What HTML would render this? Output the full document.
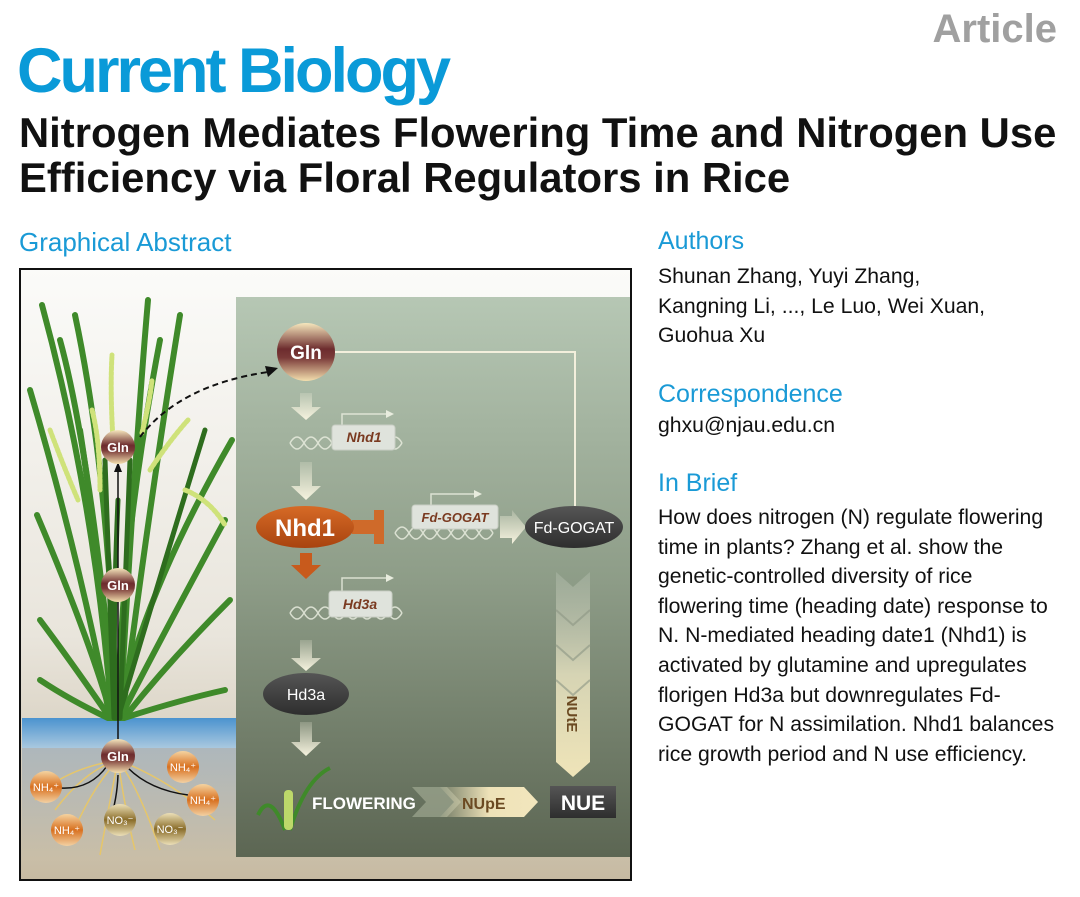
<!DOCTYPE html>
<html><head><meta charset="utf-8"><style>
body{margin:0;width:1080px;height:897px;background:#fff;position:relative;overflow:hidden;font-family:"Liberation Sans",sans-serif}
.a{position:absolute;white-space:nowrap}
.h{color:#1a9ad6;font-size:25px}
.t{font-size:21.2px;color:#111;line-height:29.6px}
</style></head><body>
<div class="a" style="right:23px;top:7px;font-size:40px;font-weight:bold;color:#a0a0a0">Article</div>
<div class="a" style="left:17px;top:35px;font-size:63px;font-weight:bold;color:#0a9ad8;letter-spacing:-3px">Current Biology</div>
<div class="a" style="left:19px;top:110px;font-size:41.8px;font-weight:bold;color:#111;line-height:45px">Nitrogen Mediates Flowering Time and Nitrogen Use<br>Efficiency via Floral Regulators in Rice</div>
<div class="a h" style="left:19px;top:227px;font-size:26px">Graphical Abstract</div>
<div class="a h" style="left:658px;top:227px">Authors</div>
<div class="a t" style="left:658px;top:262px">Shunan Zhang, Yuyi Zhang,<br>Kangning Li, ..., Le Luo, Wei Xuan,<br>Guohua Xu</div>
<div class="a h" style="left:658px;top:380px">Correspondence</div>
<div class="a t" style="left:658px;top:411px">ghxu@njau.edu.cn</div>
<div class="a h" style="left:658px;top:469px">In Brief</div>
<div class="a t" style="left:658px;top:503px">How does nitrogen (N) regulate flowering<br>time in plants? Zhang et al. show the<br>genetic-controlled diversity of rice<br>flowering time (heading date) response to<br>N. N-mediated heading date1 (Nhd1) is<br>activated by glutamine and upregulates<br>florigen Hd3a but downregulates Fd-<br>GOGAT for N assimilation. Nhd1 balances<br>rice growth period and N use efficiency.</div>
<svg class="a" style="left:0;top:0" width="1080" height="897" viewBox="0 0 1080 897" font-family="Liberation Sans, sans-serif">
<defs>
<linearGradient id="bg" x1="0" y1="0" x2="0" y2="1"><stop offset="0" stop-color="#fbfbf9"/><stop offset=".6" stop-color="#e9e5dc"/><stop offset="1" stop-color="#c6baa2"/></linearGradient>
<linearGradient id="pn" x1="0" y1="0" x2="0" y2="1"><stop offset="0" stop-color="#b6c7b4"/><stop offset=".5" stop-color="#8e9d88"/><stop offset="1" stop-color="#5c6653"/></linearGradient>
<linearGradient id="wa" x1="0" y1="0" x2="0" y2="1"><stop offset="0" stop-color="#4b93cf"/><stop offset="1" stop-color="#a9c8df"/></linearGradient>
<linearGradient id="so" x1="0" y1="0" x2="0" y2="1"><stop offset="0" stop-color="#a9b4bb"/><stop offset="1" stop-color="#c9bea7"/></linearGradient>
<linearGradient id="gl" x1="0" y1="0" x2="0" y2="1"><stop offset="0" stop-color="#f6e7bd"/><stop offset=".45" stop-color="#6d2c2e"/><stop offset=".6" stop-color="#7a3a38"/><stop offset="1" stop-color="#f3dfae"/></linearGradient>
<linearGradient id="nh" x1="0" y1="0" x2="0" y2="1"><stop offset="0" stop-color="#f5d3a0"/><stop offset=".5" stop-color="#d8701f"/><stop offset="1" stop-color="#f3d1a3"/></linearGradient>
<linearGradient id="no" x1="0" y1="0" x2="0" y2="1"><stop offset="0" stop-color="#ece0b8"/><stop offset=".5" stop-color="#8a6d2a"/><stop offset="1" stop-color="#ece0b8"/></linearGradient>
<linearGradient id="or" x1="0" y1="0" x2="0" y2="1"><stop offset="0" stop-color="#d66a26"/><stop offset="1" stop-color="#a8430f"/></linearGradient>
<linearGradient id="dk" x1="0" y1="0" x2="0" y2="1"><stop offset="0" stop-color="#555"/><stop offset="1" stop-color="#2e2e2e"/></linearGradient>
<linearGradient id="wh" x1="0" y1="0" x2="0" y2="1"><stop offset="0" stop-color="#f6f3df" stop-opacity=".2"/><stop offset="1" stop-color="#f6f3df"/></linearGradient>
<linearGradient id="ch" x1="0" y1="0" x2="0" y2="1"><stop offset="0" stop-color="#c0c9bb" stop-opacity=".3"/><stop offset=".5" stop-color="#d6d4b4"/><stop offset="1" stop-color="#efe4b8"/></linearGradient>
<linearGradient id="hz" x1="0" y1="0" x2="1" y2="0"><stop offset="0" stop-color="#eee2b8" stop-opacity=".1"/><stop offset=".5" stop-color="#eee2b8"/><stop offset="1" stop-color="#f2e6bd"/></linearGradient>
</defs>
<rect x="20" y="269" width="611" height="611" fill="url(#bg)" stroke="#111" stroke-width="2"/>
<rect x="236" y="297" width="394" height="560" fill="url(#pn)"/>
<rect x="22" y="718" width="214" height="30" fill="url(#wa)"/>
<rect x="22" y="748" width="214" height="110" fill="url(#so)" opacity=".9"/>
<g fill="none" stroke-linecap="round">
<g stroke="#3f8a2a" stroke-width="6">
<path d="M112 718 Q95 500 42 305"/><path d="M116 718 Q110 480 75 315"/><path d="M120 718 Q135 450 148 300"/><path d="M122 718 Q150 500 180 315"/>
<path d="M110 718 Q80 560 30 390"/><path d="M118 718 Q140 600 232 440"/><path d="M120 718 Q160 640 225 520"/><path d="M112 718 Q90 640 37 515"/>
<path d="M124 718 Q170 660 230 600"/><path d="M110 718 Q70 660 40 620"/><path d="M118 718 Q120 550 160 340"/><path d="M116 718 Q90 450 60 340"/>
<path d="M124 718 Q180 700 225 690"/><path d="M108 718 Q70 700 40 680"/><path d="M114 718 Q100 560 80 430"/>
</g>
<g stroke="#2e6d1e" stroke-width="5"><path d="M114 718 Q110 600 105 460"/><path d="M120 718 Q125 600 130 460"/><path d="M118 718 Q165 560 205 430"/><path d="M116 718 Q112 640 118 500"/></g>
<g stroke="#cfe27a" stroke-width="5" stroke-dasharray="3 2"><path d="M113 440 Q110 390 112 355"/><path d="M142 433 Q150 400 152 380"/><path d="M92 410 Q100 440 100 490"/><path d="M50 430 Q65 470 78 500"/><path d="M150 470 Q170 440 188 420"/><path d="M185 490 Q210 500 225 525"/></g>
</g>
<line x1="118" y1="740" x2="118" y2="470" stroke="#111" stroke-width="1.5"/>
<path d="M114 472 L118 462 L122 472Z" fill="#111"/>
<path d="M140 437 Q180 385 268 372" fill="none" stroke="#111" stroke-width="2" stroke-dasharray="6 4"/>
<path d="M265 366 L278 368 L268 377Z" fill="#111"/>
<g fill="none" stroke="#e6c66a" stroke-width="1.5"><path d="M118 760 Q90 790 70 840"/><path d="M118 760 Q140 790 160 850"/><path d="M118 760 Q110 800 100 855"/><path d="M118 760 Q170 780 215 820"/><path d="M118 760 Q60 770 35 800"/><path d="M118 760 Q125 810 135 850"/><path d="M118 760 Q85 770 55 810"/></g>
<g fill="none" stroke="#111" stroke-width="1.5"><path d="M60 788 Q90 790 107 766"/><path d="M110 820 Q117 800 118 775"/><path d="M188 795 Q150 790 128 768"/></g>
<g font-weight="bold" fill="#fff" text-anchor="middle">
<circle cx="118" cy="447" r="17" fill="url(#gl)"/><text x="118" y="452" font-size="13">Gln</text>
<circle cx="118" cy="585" r="17" fill="url(#gl)"/><text x="118" y="590" font-size="13">Gln</text>
<circle cx="118" cy="756" r="17" fill="url(#gl)"/><text x="118" y="761" font-size="13">Gln</text>
<g font-size="11" font-weight="normal">
<circle cx="46" cy="787" r="16" fill="url(#nh)"/><text x="46" y="791">NH₄⁺</text>
<circle cx="183" cy="767" r="16" fill="url(#nh)"/><text x="183" y="771">NH₄⁺</text>
<circle cx="203" cy="800" r="16" fill="url(#nh)"/><text x="203" y="804">NH₄⁺</text>
<circle cx="67" cy="830" r="16" fill="url(#nh)"/><text x="67" y="834">NH₄⁺</text>
<circle cx="120" cy="820" r="16" fill="url(#no)"/><text x="120" y="824">NO₃⁻</text>
<circle cx="170" cy="829" r="16" fill="url(#no)"/><text x="170" y="833">NO₃⁻</text>
</g>
<polyline points="335,352 575,352 575,508" fill="none" stroke="#f3efdc" stroke-width="2"/>
<circle cx="306" cy="352" r="29" fill="url(#gl)"/><text x="306" y="359" font-size="19">Gln</text>
</g>
<g fill="url(#wh)">
<path d="M300 393 h12 v14 h9 l-15 13 l-15 -13 h9z"/><path d="M300 462 h12 v24 h9 l-15 14 l-15 -14 h9z"/>
<path d="M300 640 h12 v18 h9 l-15 13 l-15 -13 h9z"/><path d="M300 722 h12 v20 h9 l-15 14 l-15 -14 h9z"/>
<path d="M500 516 h12 v-6 l14 17 l-14 17 v-6 h-12z"/>
</g>
<path d="M300 553 h12 v12 h9 l-15 14 l-15 -14 h9z" fill="#c85a1c"/>
<rect x="352" y="520" width="22" height="14" fill="#cf6a2a"/><rect x="374" y="510" width="10" height="34" fill="#cf6a2a"/>
<g fill="none" stroke="#e8ecde" stroke-width="1.5" opacity=".85">
<path d="M290 443 q7 -12 14 0 t14 0 t14 0 t14 0 t14 0 t14 0 t14 0 t14 0"/><path d="M290 443 q7 12 14 0 t14 0 t14 0 t14 0 t14 0 t14 0 t14 0 t14 0"/>
<path d="M395 533 q7 -12 14 0 t14 0 t14 0 t14 0 t14 0 t14 0 t14 0"/><path d="M395 533 q7 12 14 0 t14 0 t14 0 t14 0 t14 0 t14 0 t14 0"/>
<path d="M290 613 q7 -12 14 0 t14 0 t14 0 t14 0 t14 0 t14 0 t14 0 t14 0"/><path d="M290 613 q7 12 14 0 t14 0 t14 0 t14 0 t14 0 t14 0 t14 0 t14 0"/>
<polyline points="342,427 342,414 386,414"/><polyline points="431,507 431,494 474,494"/><polyline points="342,592 342,578 386,578"/>
</g>
<g fill="#e8ecde"><path d="M386 410 l8 4 l-8 4z"/><path d="M474 490 l8 4 l-8 4z"/><path d="M386 574 l8 4 l-8 4z"/></g>
<g font-weight="bold" font-style="italic" fill="#7a3a20" font-size="14" text-anchor="middle">
<rect x="332" y="425" width="63" height="25" rx="3" fill="#dfe3dc" stroke="#c8cec4"/><text x="364" y="442">Nhd1</text>
<rect x="412" y="505" width="86" height="24" rx="3" fill="#dfe3dc" stroke="#c8cec4"/><text x="455" y="522" font-size="13">Fd-GOGAT</text>
<rect x="329" y="591" width="63" height="26" rx="3" fill="#dfe3dc" stroke="#c8cec4"/><text x="360" y="609">Hd3a</text>
</g>
<g font-weight="bold" fill="#fff" text-anchor="middle">
<ellipse cx="305" cy="527" rx="49" ry="21" fill="url(#or)"/><text x="305" y="536" font-size="24">Nhd1</text>
<ellipse cx="574" cy="527" rx="49" ry="21" fill="url(#dk)"/><text x="574" y="533" font-size="16" font-weight="normal">Fd-GOGAT</text>
<ellipse cx="306" cy="694" rx="43" ry="21" fill="url(#dk)"/><text x="306" y="700" font-size="16" font-weight="normal">Hd3a</text>
</g>
<path d="M556 572 l17 15 l17 -15 v190 l-17 15 l-17 -15z" fill="url(#ch)"/>
<g fill="none" stroke="#8c9684" stroke-width="2" opacity=".6"><path d="M556 610 l17 15 l17 -15"/><path d="M556 645 l17 15 l17 -15"/><path d="M556 680 l17 15 l17 -15"/></g>
<text x="0" y="0" transform="translate(567,714) rotate(90)" font-size="15" font-weight="bold" fill="#6b4a22" text-anchor="middle">NUtE</text>
<path d="M258 815 Q270 790 285 830 M290 830 Q305 780 330 768" stroke="#3f8a2a" stroke-width="4" fill="none"/>
<rect x="284" y="790" width="9" height="40" rx="4" fill="#bdd86a"/>
<path d="M412 787 h35 l14 15 l-14 15 h-35 l14 -15z" fill="#a8b09a" opacity=".6"/>
<path d="M440 787 h84 l14 15 l-14 15 h-84 l14 -15z" fill="url(#hz)"/>
<text x="312" y="809" font-size="17" font-weight="bold" fill="#fff">FLOWERING</text>
<text x="462" y="809" font-size="16" font-weight="bold" fill="#6b4a22">NUpE</text>
<rect x="550" y="786" width="66" height="32" fill="url(#dk)"/>
<text x="583" y="810" font-size="21" font-weight="bold" fill="#fff" text-anchor="middle">NUE</text>
</svg>
</body></html>
